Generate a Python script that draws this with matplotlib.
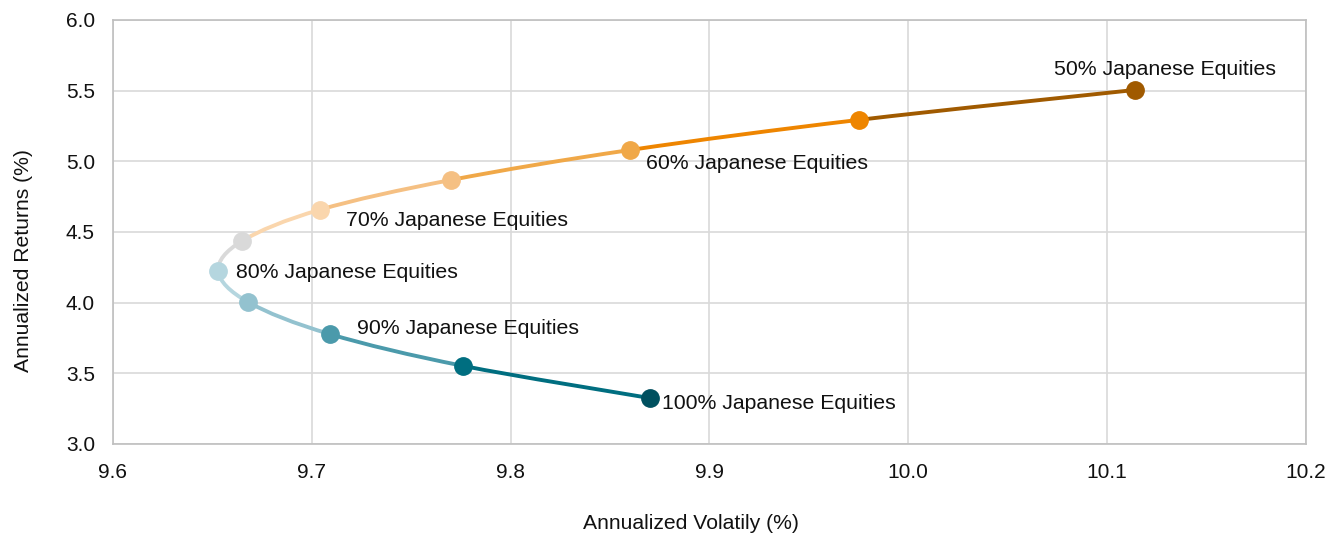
import matplotlib
matplotlib.use("Agg")
import matplotlib.pyplot as plt
from matplotlib.path import Path
from matplotlib.patches import PathPatch

plt.rcParams['font.family'] = ['Liberation Sans', 'DejaVu Sans']

# Portfolio mix (share of Japanese equities) along the frontier
equity_share = [100, 95, 90, 85, 80, 75, 70, 65, 60, 55, 50]
volatility = [9.870, 9.776, 9.709, 9.668, 9.653, 9.665, 9.704, 9.770, 9.860, 9.975, 10.114]
returns = [3.325, 3.553, 3.778, 4.004, 4.223, 4.437, 4.657, 4.868, 5.080, 5.293, 5.505]
point_colors = ['#00505f', '#006e80', '#4b9aab', '#93c2cf', '#b5d6df', '#d9d9d9',
                '#fad6ad', '#f5c083', '#f0a848', '#ee8500', '#a05a00']

labelled = [100, 90, 80, 70, 60, 50]
label_offsets = {100: (12, -5), 90: (27, 6), 80: (18, -1), 70: (26, -11), 60: (16, -13), 50: (-81, 20)}

x_ticks = [9.6, 9.7, 9.8, 9.9, 10.0, 10.1, 10.2]
y_ticks = [3.0, 3.5, 4.0, 4.5, 5.0, 5.5, 6.0]

fig = plt.figure(figsize=(13.4, 5.33), dpi=100)
ax = fig.add_axes([0.0843, 0.167, 0.8903, 0.7955])

# Smoothed connecting line (Catmull-Rom style cubic Bezier segments)
n = len(volatility)
pts = list(zip(volatility, returns))
for i in range(n - 1):
    p0 = pts[i - 1] if i > 0 else pts[i]
    p1 = pts[i]
    p2 = pts[i + 1]
    p3 = pts[i + 2] if i + 2 < n else pts[i + 1]
    c1 = (p1[0] + (p2[0] - p0[0]) / 6, p1[1] + (p2[1] - p0[1]) / 6)
    c2 = (p2[0] - (p3[0] - p1[0]) / 6, p2[1] - (p3[1] - p1[1]) / 6)
    path = Path([p1, c1, c2, p2], [Path.MOVETO, Path.CURVE4, Path.CURVE4, Path.CURVE4])
    ax.add_patch(PathPatch(path, facecolor='none', edgecolor=point_colors[i + 1],
                           lw=2.8, capstyle='round', zorder=3))

for v, r, c in zip(volatility, returns, point_colors):
    ax.plot(v, r, 'o', ms=12.5, color=c, mec=c, zorder=4)

for share in labelled:
    i = equity_share.index(share)
    ax.annotate(f"{share}% Japanese Equities", (volatility[i], returns[i]),
                xytext=label_offsets[share], textcoords='offset pixels',
                ha='left', va='center', fontsize=15.3, color='#111111', zorder=5)

ax.set_xlim(x_ticks[0], x_ticks[-1])
ax.set_ylim(y_ticks[0], y_ticks[-1])
ax.set_xticks(x_ticks)
ax.set_yticks(y_ticks)
ax.set_xticklabels([f"{t:.1f}" for t in x_ticks])
ax.set_yticklabels([f"{t:.1f}" for t in y_ticks])
ax.tick_params(length=0, labelsize=15, labelcolor='#111111')
ax.tick_params(axis='x', pad=14)
ax.tick_params(axis='y', pad=13)
ax.grid(True, color='#d9d9d9', lw=1.2)
ax.set_axisbelow(True)
for s in ax.spines.values():
    s.set_color('#bfbfbf')
    s.set_linewidth(1.2)

ax.set_xlabel("Annualized Volatily (%)", fontsize=15.2, color='#111111')
ax.set_ylabel("Annualized Returns (%)", fontsize=15.2, color='#111111')
ax.xaxis.set_label_coords(0.4845, -0.188, transform=ax.transAxes)
ax.yaxis.set_label_coords(-0.075, 0.4316, transform=ax.transAxes)
ax.xaxis.label.set_va('center')
ax.yaxis.label.set_va('center')

fig.savefig("out.png", dpi=100)
